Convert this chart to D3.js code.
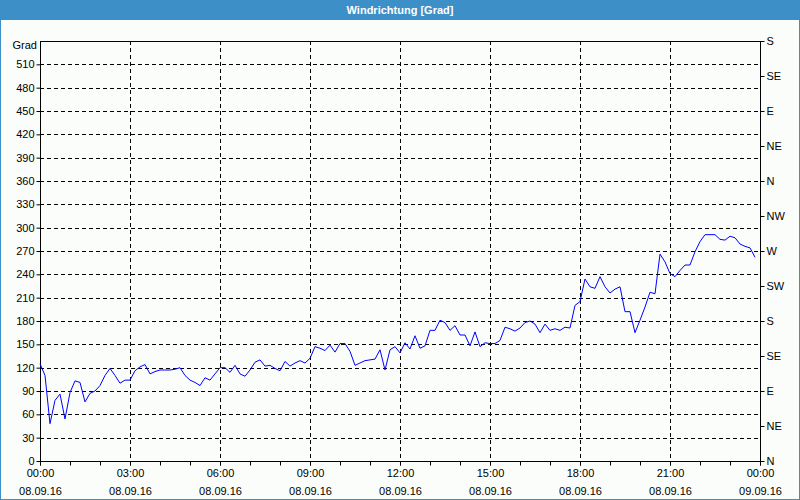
<!DOCTYPE html>
<html>
<head>
<meta charset="utf-8">
<script src="https://cdn.jsdelivr.net/npm/d3@7"></script>
<style>
  html, body { margin: 0; padding: 0; background: #ffffff; }
  svg { display: block; font-family: "Liberation Sans", Arial, sans-serif; }
</style>
</head>
<body>
<svg id="chart" width="800" height="500"></svg>
<script>
const chartTitle = "Windrichtung [Grad]";
const yUnit = "Grad";
const startTime = "2016-09-08T00:00";
const endTime = "2016-09-09T00:00";
const stepMinutes = 10;
// wind direction in degrees, one value every 10 minutes from 08.09.16 00:00
const windDirection = [
  125,110,48,78,86,54,88,103,101,76,87,90,
  97,110,119,110,100,104,104,116,121,124,112,115,
  117,117,117,118,120,110,104,101,97,107,104,112,
  120,120,114,123,112,109,117,127,130,122,123,119,
  116,128,122,126,129,126,132,147,145,142,149,140,
  151,151,141,123,126,129,130,131,143,117,143,147,
  139,152,144,161,145,148,168,168,181,178,168,174,
  162,162,148,166,147,152,151,151,155,172,170,167,
  171,178,180,176,165,176,168,170,168,172,171,200,
  205,234,224,222,237,224,216,221,224,192,192,165,
  181,198,217,215,266,256,241,237,245,252,252,269,
  282,291,291,291,285,284,289,287,279,276,274,262
];
const leftTicks = [0,30,60,90,120,150,180,210,240,270,300,330,360,390,420,450,480,510];
const rightTickValues = [0,45,90,135,180,225,270,315,360,405,450,495,540];
const rightTickLabels = ["N","NE","E","SE","S","SW","W","NW","N","NE","E","SE","S"];
const yMax = 540;

const svg = d3.select("#chart");
const W = 800, H = 500;
const margin = { left: 40, right: 40, top: 41, bottom: 39 };
const x0 = margin.left, x1 = W - margin.right, y0 = H - margin.bottom, y1 = margin.top;

// frame
svg.append("rect").attr("x", 0).attr("y", 0).attr("width", W).attr("height", H).attr("fill", "#3d8fc7");
svg.append("rect").attr("x", 1).attr("y", 20).attr("width", W - 2).attr("height", H - 21).attr("fill", "#fbfdfb");
svg.append("text").attr("x", W / 2).attr("y", 14).attr("text-anchor", "middle")
  .attr("fill", "#ffffff").attr("font-size", 11).attr("font-weight", "bold").text(chartTitle);

const parse = d3.timeParse("%Y-%m-%dT%H:%M");
const t0 = parse(startTime), t1 = parse(endTime);
const data = windDirection.map((v, i) => ({ t: d3.timeMinute.offset(t0, i * stepMinutes), v }));

const x = d3.scaleTime().domain([t0, t1]).range([x0, x1]);
const y = d3.scaleLinear().domain([0, yMax]).range([y0, y1]);

const majorTimes = d3.timeHour.every(3).range(t0, d3.timeMinute.offset(t1, 1));
const minorTimes = d3.timeHour.every(1).range(t0, d3.timeMinute.offset(t1, 1));

// grid
const grid = svg.append("g").attr("stroke", "#000").attr("stroke-dasharray", "4,3").attr("stroke-width", 1);
leftTicks.filter(d => d > 0).forEach(d => {
  grid.append("line").attr("x1", x0).attr("x2", x1)
    .attr("y1", Math.round(y(d)) + 0.5).attr("y2", Math.round(y(d)) + 0.5);
});
majorTimes.slice(1, -1).forEach(d => {
  grid.append("line").attr("y1", y1).attr("y2", y0)
    .attr("x1", Math.round(x(d)) + 0.5).attr("x2", Math.round(x(d)) + 0.5);
});

// left axis
const yAxisL = d3.axisLeft(y).tickValues(leftTicks).tickSize(4).tickPadding(2).tickFormat(d3.format("d"));
const gL = svg.append("g").attr("transform", `translate(${x0 + 0.5},0)`).call(yAxisL);
// right axis
const yAxisR = d3.axisRight(y).tickValues(rightTickValues).tickSize(4).tickPadding(2)
  .tickFormat((d, i) => rightTickLabels[i]);
const gR = svg.append("g").attr("transform", `translate(${x1 + 0.5},0)`).call(yAxisR);
// bottom axis (minor ticks)
const xAxisMinor = d3.axisBottom(x).tickValues(minorTimes).tickSize(4).tickFormat("");
const gBm = svg.append("g").attr("transform", `translate(0,${y0 + 0.5})`).call(xAxisMinor);
const xAxis = d3.axisBottom(x).tickValues(majorTimes).tickSize(4).tickPadding(4)
  .tickFormat(d3.timeFormat("%H:%M"));
const gB = svg.append("g").attr("transform", `translate(0,${y0 + 0.5})`).call(xAxis);
gB.selectAll(".tick").append("text").attr("fill", "#000").attr("y", 26).attr("dy", "0.71em")
  .text(d => d3.timeFormat("%d.%m.%y")(d));

[gL, gR, gBm, gB].forEach(g => {
  g.selectAll(".domain").remove();
  g.selectAll("text").attr("font-size", 11).attr("font-family", "Liberation Sans, Arial, sans-serif").attr("fill", "#000");
  g.selectAll("line").attr("stroke", "#000");
});
gB.selectAll(".tick text").attr("font-size", 11);

// plot border
svg.append("rect").attr("x", x0 + 0.5).attr("y", y1 + 0.5).attr("width", x1 - x0).attr("height", y0 - y1)
  .attr("fill", "none").attr("stroke", "#000").attr("stroke-width", 1);

svg.append("text").attr("x", x0 - 3).attr("y", y1 + 4).attr("dy", "0.32em").attr("text-anchor", "end")
  .attr("font-size", 11).attr("fill", "#000").text(yUnit);

// line
const line = d3.line().x(d => x(d.t)).y(d => y(d.v));
svg.append("path").datum(data).attr("d", line).attr("fill", "none")
  .attr("stroke", "#0000ff").attr("stroke-width", 1);
</script>
</body>
</html>
